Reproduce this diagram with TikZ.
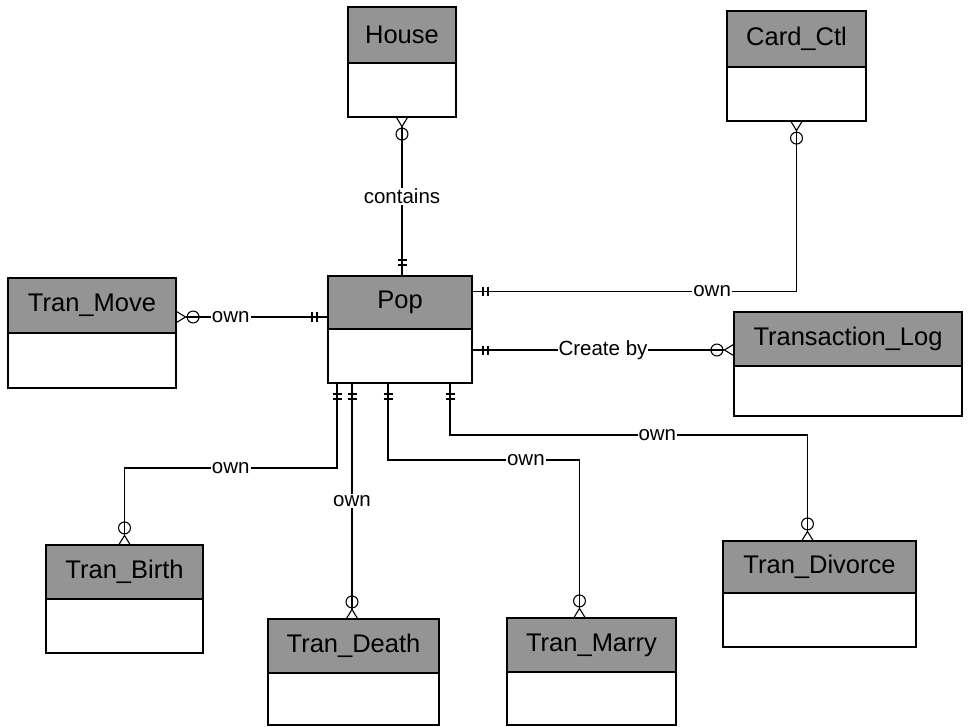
\documentclass[tikz,border=0pt]{standalone}
\usepackage{fontspec}
\setmainfont{Liberation Sans}
\usetikzlibrary{arrows.meta, positioning, decorations.markings}

\begin{document}
\begin{tikzpicture}[x=1pt, y=-1pt,
    entity/.style = {rectangle, draw=black, fill=black!42, line width=1.8pt, outer sep=0pt, inner sep=0pt, anchor=north west, font=\fontsize{25.5}{30}\selectfont},
    attrs/.style = {rectangle, draw=black, fill=white, line width=1.8pt, outer sep=0pt, inner sep=0pt, anchor=north},
    rel/.style = {draw=black, line width=1.1pt},
    many/.style = {-{Circle[open, length=13pt, width=13pt] Straight Barb[reversed, length=9pt, width=11pt]}},
    one/.style = {postaction={decorate}, decoration={markings,
        mark=at position 11pt with {\draw [-, line width=1.1pt] (0,-4.5pt) -- (0,4.5pt);},
        mark=at position 16pt with {\draw [-, line width=1.1pt] (0,-4.5pt) -- (0,4.5pt);}}},
    lbl/.style = {fill=white, inner sep=1pt, font=\fontsize{20.5}{24}\selectfont}
]
\useasboundingbox (0,0) rectangle (969,727);

% Entities
\node (house) [entity, minimum width=108, minimum height=56] at (348,7) {House};
\node (houseb) [attrs, minimum width=108, minimum height=54] at (house.south) {};
\node (card) [entity, minimum width=139, minimum height=56] at (727,11) {Card\_Ctl};
\node (cardb) [attrs, minimum width=139, minimum height=54] at (card.south) {};
\node (move) [entity, minimum width=168, minimum height=55] at (8,278) {Tran\_Move};
\node (moveb) [attrs, minimum width=168, minimum height=55] at (move.south) {};
\node (pop) [entity, minimum width=144, minimum height=53] at (328,276) {Pop};
\node (popb) [attrs, minimum width=144, minimum height=54] at (pop.south) {};
\node (log) [entity, minimum width=228, minimum height=54] at (734,312) {Transaction\_Log};
\node (logb) [attrs, minimum width=228, minimum height=50] at (log.south) {};
\node (birth) [entity, minimum width=157, minimum height=54] at (46,545) {Tran\_Birth};
\node (birthb) [attrs, minimum width=157, minimum height=54] at (birth.south) {};
\node (death) [entity, minimum width=171, minimum height=54] at (268,619) {Tran\_Death};
\node (deathb) [attrs, minimum width=171, minimum height=52] at (death.south) {};
\node (marry) [entity, minimum width=169, minimum height=54] at (507,618) {Tran\_Marry};
\node (marryb) [attrs, minimum width=169, minimum height=53] at (marry.south) {};
\node (divorce) [entity, minimum width=193, minimum height=52] at (723,541) {Tran\_Divorce};
\node (divorceb) [attrs, minimum width=193, minimum height=54] at (divorce.south) {};

% Connection points
\coordinate (moveout) at ([yshift=-14.5pt]pop.west);
\coordinate (logout) at ([yshift=6pt]popb.east);
\coordinate (deathout) at ([xshift=-48pt]popb.south);

% Relationships
\draw [rel, one, many] (pop.north -| houseb.south) -- node[lbl] {contains} (houseb.south);
\draw [rel, one, many] ([yshift=11pt]pop.east) -| node[lbl, pos=0.37] {own} (cardb.south);
\draw [rel, one, many] (moveout) -- node[lbl, pos=0.64] {own} (move.east |- moveout);
\draw [rel, one, many] (logout) -- node[lbl] {Create by} (log.west |- logout);
\draw [rel, one, many] ([xshift=-63pt]popb.south) -- ++(0,85) -| node[lbl, pos=0.25] {own} (birth.north);
\draw [rel, one, many] (deathout) -- node[lbl] {own} (deathout |- death.north);
\draw [rel, one, many] ([xshift=-12pt]popb.south) -- ++(0,77) -| node[lbl, pos=0.36] {own} ([xshift=-12pt]marry.north);
\draw [rel, one, many] ([xshift=50pt]popb.south) -- ++(0,52) -| node[lbl, pos=0.29] {own} ([xshift=-12pt]divorce.north);

\end{tikzpicture}
\end{document}
